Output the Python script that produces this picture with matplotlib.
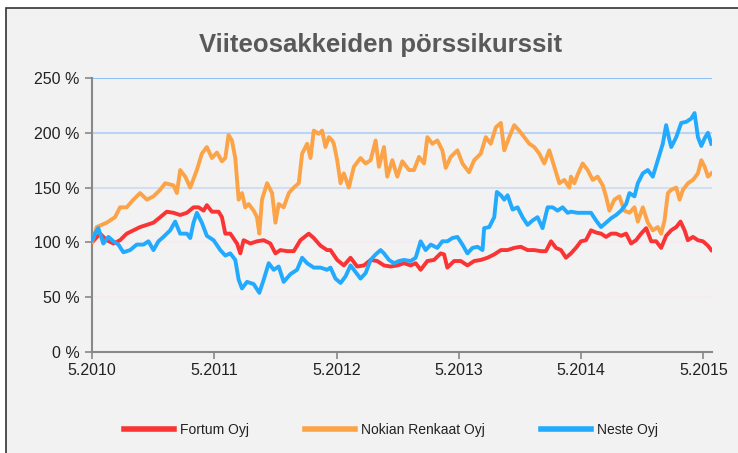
import matplotlib
matplotlib.use("Agg")
import matplotlib.pyplot as plt
from matplotlib.patches import Rectangle

# months since 5.2010, values in % of start
fortum_months = [0, 0.79, 1.44, 2.10, 2.75, 3.41, 4.06, 4.72, 5.38, 6.03, 6.69, 7.34, 8.0, 8.65,
                 9.31, 9.96, 10.46, 10.95, 11.27, 11.77, 12.42, 12.75, 13.08, 13.57, 14.23, 14.55,
                 14.88, 15.54, 16.19, 16.85, 17.5, 18.0, 18.49, 19.14, 19.8, 20.45, 21.27, 21.76,
                 22.42, 23.07,
                 23.40, 24.06, 24.71, 25.37, 26.02, 26.68, 27.34, 27.99, 28.65, 29.30, 29.96, 30.61,
                 31.27, 31.76, 32.25, 32.91, 33.56, 34.22, 34.55, 34.87, 35.53, 36.19, 36.84, 37.50,
                 38.15, 38.81, 39.46, 40.12, 40.77, 41.43, 42.08, 42.74, 43.39, 44.05, 44.54, 45.04,
                 45.53, 46.02, 46.51,
                 47.0, 47.49, 47.98, 48.47, 48.97, 49.46, 49.95, 50.44, 50.94, 51.43, 51.92, 52.41,
                 52.9, 53.39, 53.88, 54.38, 54.87, 55.36, 55.85, 56.34, 56.83, 57.33, 57.75, 58.15,
                 58.47, 58.97, 59.46, 59.95, 60.44, 60.77]
fortum_values = [100, 108, 102, 99, 102, 108, 111, 114, 116, 118, 123, 128, 127, 125,
                 127, 132, 132, 129, 134, 128, 128, 123, 108, 108, 99, 90,
                 102, 99, 101, 102, 99, 90, 93, 92, 92, 102, 108, 104,
                 97, 93,
                 93, 84, 79, 86, 78, 79, 84, 83, 79, 78, 79, 81,
                 79, 81, 75, 83, 84, 90, 89, 77, 83, 83, 79, 83,
                 84, 86, 89, 93, 93, 95, 96, 93, 93, 92, 92, 101,
                 95, 93, 86,
                 90, 95, 101, 102, 111, 109, 108, 105, 108, 108, 106, 108,
                 99, 102, 108, 113, 101, 101, 95, 106, 111, 114, 119, 111,
                 102, 105, 102, 101, 97, 93]

nokian_months = [0, 0.46, 1.44, 2.26, 2.75, 3.41, 4.06, 4.72, 5.38, 6.03, 6.69, 7.18, 8.0, 8.33,
                 8.65, 9.15, 9.64, 10.29, 10.78, 11.27, 11.77, 12.26, 12.75, 13.08, 13.4, 13.73,
                 14.06, 14.39, 14.72, 15.04, 15.37, 15.86, 16.19, 16.42, 16.68, 17.18, 17.67, 18.0,
                 18.32, 18.81, 19.31, 19.8, 20.29, 20.62, 21.11, 21.44, 21.76, 22.26, 22.58, 22.91,
                 23.24, 23.57,
                 23.73, 24.06, 24.39, 24.71, 25.20, 25.70, 26.35, 26.85, 27.34, 27.83, 28.16, 28.65,
                 28.97, 29.47, 29.96, 30.45, 31.11, 31.6, 32.09, 32.58, 32.91, 33.4, 33.89, 34.38,
                 34.71, 35.2, 35.86, 36.35, 37.0, 37.5, 38.15, 38.64, 39.13, 39.63, 40.12, 40.45,
                 40.94, 41.43, 41.92, 42.41, 42.91, 43.4, 43.89, 44.38, 44.87, 45.37, 45.86, 46.35,
                 46.84,
                 47.0, 47.33, 47.66, 48.15, 48.64, 49.13, 49.62, 50.12, 50.44, 50.77, 51.26, 51.75,
                 52.24, 52.74, 53.23, 53.56, 54.05, 54.54, 55.03, 55.52, 55.85, 56.18, 56.51, 56.84,
                 57.33, 57.66, 57.99, 58.48, 58.97, 59.46, 59.79, 60.12, 60.44, 60.77]
nokian_values = [100, 114, 118, 123, 132, 132, 139, 145, 139, 142, 148, 154, 152, 145,
                 166, 160, 150, 166, 181, 187, 177, 182, 174, 177, 198, 193,
                 177, 139, 145, 132, 135, 129, 123, 108, 139, 154, 145, 118,
                 135, 132, 145, 150, 154, 181, 190, 177, 202, 199, 202, 187,
                 196, 193,
                 190, 175, 154, 163, 150, 169, 177, 172, 175, 193, 169, 187,
                 160, 175, 160, 174, 166, 166, 178, 172, 196, 190, 193, 184,
                 168, 178, 184, 172, 164, 175, 181, 196, 190, 205, 209, 184,
                 196, 207, 202, 196, 190, 187, 181, 172, 184, 169, 154, 157,
                 150,
                 160, 154, 162, 172, 166, 157, 160, 152, 142, 129, 139, 142,
                 129, 127, 132, 119, 132, 118, 111, 114, 108, 120, 145, 148,
                 150, 139, 148, 154, 157, 163, 175, 169, 160, 163]

neste_months = [0, 0.29, 0.62, 1.11, 1.61, 2.10, 2.59, 3.08, 3.74, 4.39, 5.05, 5.54, 6.03, 6.52,
                7.01, 7.67, 8.16, 8.65, 9.31, 9.64, 9.96, 10.29, 10.78, 11.27, 11.93, 12.59,
                13.08, 13.57, 14.06, 14.39, 14.72, 15.21, 15.86, 16.42, 16.85, 17.34, 17.83, 18.32,
                18.81, 19.47, 20.12, 20.62, 21.11, 21.76, 22.42, 23.07,
                23.40, 23.89, 24.39, 24.88, 25.37, 25.86, 26.35, 26.85, 27.34, 27.83, 28.32, 28.65,
                29.14, 29.63, 30.12, 30.61, 31.27, 31.76, 32.25, 32.74, 33.24, 33.89, 34.38, 34.87,
                35.37, 35.86, 36.35, 36.84, 37.34, 37.83, 38.32, 38.48, 38.98, 39.47, 39.73, 40.12,
                40.45, 40.78, 41.27, 41.76, 42.25, 42.74, 43.23, 43.72, 44.21, 44.71, 45.2, 45.69,
                46.18, 46.67,
                47.0, 47.66, 48.31, 48.97, 49.46, 49.95, 50.44, 50.94, 51.43, 51.92, 52.41, 52.74,
                53.23, 53.56, 54.05, 54.54, 55.03, 55.52, 56.01, 56.34, 56.67, 56.84, 57.33, 57.82,
                58.31, 58.80, 59.13, 59.46, 59.79, 60.12, 60.44, 60.77]
neste_values = [102, 108, 113, 99, 105, 101, 98, 91, 93, 98, 98, 101, 93, 101,
                105, 111, 119, 108, 108, 104, 118, 127, 118, 106, 102, 93,
                88, 90, 84, 66, 58, 64, 62, 54, 66, 81, 75, 78,
                64, 71, 75, 86, 81, 77, 77, 75,
                77, 67, 63, 69, 79, 73, 67, 72, 84, 89, 93, 90,
                84, 81, 83, 84, 83, 86, 101, 93, 98, 95, 101, 101,
                104, 105, 98, 90, 95, 96, 93, 113, 114, 123, 146, 143,
                139, 143, 130, 132, 123, 116, 120, 123, 113, 132, 132, 129,
                132, 127,
                128, 127, 127, 127, 120, 114, 118, 122, 125, 129, 135, 145,
                142, 154, 163, 166, 160, 175, 190, 207, 193, 187, 196, 209,
                210, 213, 218, 196, 188, 195, 200, 190]

series_names = ["Fortum Oyj", "Nokian Renkaat Oyj", "Neste Oyj"]
tick_months = [0, 12, 24, 36, 48, 60]
tick_labels = ["5.2010", "5.2011", "5.2012", "5.2013", "5.2014", "5.2015"]
y_ticks = [0, 50, 100, 150, 200, 250]

bg = "#f2f2f2"
font = ["Liberation Sans Narrow", "Liberation Sans", "DejaVu Sans"]

fig = plt.figure(figsize=(7.38, 4.53), dpi=100, facecolor="white")
# grey panel with dark frame, running off the right and bottom edges
fig.patches.append(Rectangle((6 / 738, -0.02), 1.0, 1 - 8 / 453 + 0.02, transform=fig.transFigure,
                             facecolor=bg, edgecolor="#333333", linewidth=1.2, zorder=-10))

ax = fig.add_axes([92 / 738, 1 - 352 / 453, 619.6 / 738, 274 / 453])
ax.set_facecolor(bg)

grid_colors = {50: "#f7eaf3", 100: "#f7eaf3", 150: "#d3def0", 200: "#b9d5f3", 250: "#8ec2f2"}
for yv, c in grid_colors.items():
    ax.axhline(yv, color=c, lw=1.5, zorder=1)

ax.plot(fortum_months, fortum_values, color="#fa3434", lw=2.8, label=series_names[0], zorder=3)
ax.plot(nokian_months, nokian_values, color="#fca348", lw=2.8, label=series_names[1], zorder=3)
ax.plot(neste_months, neste_values, color="#22aaff", lw=2.8, label=series_names[2], zorder=3)

ax.set_xlim(0, 60.8)
ax.set_ylim(0, 250)
ax.set_xticks(tick_months)
ax.set_xticklabels(tick_labels, family=font, fontsize=11.5, color="#222222")
ax.set_yticks(y_ticks)
ax.set_yticklabels([f"{v} %" for v in y_ticks], family=font, fontsize=11.5, color="#222222")
ax.tick_params(axis="both", length=5, width=1.2, color="#888888", direction="out")
ax.tick_params(axis="y", pad=4)
ax.tick_params(axis="x", pad=3)
for s in ["top", "right"]:
    ax.spines[s].set_visible(False)
for s in ["left", "bottom"]:
    ax.spines[s].set_color("#888888")
    ax.spines[s].set_linewidth(1.5)

fig.text(381 / 738, 1 - 45 / 453, "Viiteosakkeiden pörssikurssit", ha="center", va="center",
         family=font, fontsize=18.5, fontweight="bold", color="#595959")

leg = fig.legend(loc="center", bbox_to_anchor=(391 / 738, 1 - 430 / 453), ncol=3, frameon=False,
                 handlelength=3.6, columnspacing=4.0, handletextpad=0.45,
                 prop={"family": font, "size": 10})
for t in leg.get_texts():
    t.set_color("#222222")
for h in leg.get_lines():
    h.set_linewidth(4)

fig.savefig("out.png", dpi=100, facecolor="white")
